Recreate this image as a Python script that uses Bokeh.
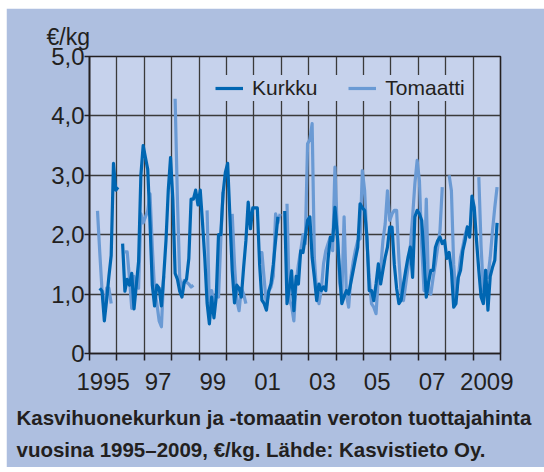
from bokeh.plotting import figure
from bokeh.models import ColumnDataSource, FixedTicker, Legend, LegendItem, Title
from bokeh.embed import file_html
from bokeh.resources import INLINE

nan = float("nan")

years = list(range(1995, 2010))
months = list(range(12))

# Kasvihuonekurkku, €/kg, monthly Jan..Dec per row
kurkku = [
    nan, nan, nan, nan, 1.10, 1.05, 0.55, 0.90, 1.30, 1.65, 3.20, 2.75,   # 1995
    2.80, nan, 1.85, 1.05, 1.25, 1.15, 1.35, 0.75, 1.15, 1.55, 3.00, 3.50,  # 1996
    3.30, 3.10, 2.20, 1.15, 0.80, 1.15, 1.10, 0.80, 1.30, 1.90, 2.75, 3.30, # 1997
    2.60, 1.35, 1.25, 1.05, 0.95, 1.20, 1.25, 1.60, 2.60, 2.60, 2.75, 2.50, # 1998
    2.75, 2.20, 1.60, 0.85, 0.50, 0.95, 0.60, 0.95, 2.00, 2.00, 2.70, 3.05, # 1999
    3.20, 2.30, 1.40, 0.85, 1.15, 1.10, 0.95, 1.45, 1.90, 2.55, 2.10, 2.45, # 2000
    2.45, 2.45, 1.50, 0.90, 0.84, 0.73, 1.05, 1.18, 1.50, 1.90, 2.30, nan,  # 2001
    nan, 2.40, 0.84, 1.10, 1.39, 0.72, 1.30, 1.17, 1.73, 1.70, 1.96, 2.24,  # 2002
    2.30, 1.62, 1.28, 0.89, 1.17, 1.06, 1.12, 1.06, 1.60, 1.96, 1.90, 2.46, # 2003
    2.01, 1.40, 0.84, 0.95, 1.06, 1.00, 1.20, 1.40, 1.60, 1.79, 2.52, 2.45, # 2004
    2.41, 1.96, 1.06, 1.06, 0.89, 1.17, 1.51, 1.17, 1.40, 1.62, 1.79, 2.13, # 2005
    2.13, 1.50, 1.10, 0.84, 0.90, 1.17, 1.40, 1.62, 1.79, 1.28, 2.30, 2.41, # 2006
    2.35, 2.24, 1.62, 0.95, 1.20, 1.40, 1.40, 1.79, 1.90, 1.96, 1.85, 1.90, # 2007
    1.60, 1.70, 1.40, 0.78, 0.84, 1.28, 1.40, 1.73, 1.90, 2.13, 1.96, 2.65, # 2008
    2.46, 1.90, 1.40, 0.95, 0.84, 1.40, 0.73, 1.30, 1.45, 1.57, 2.20, nan,  # 2009
]

# Kasvihuonetomaatti, €/kg, monthly Jan..Dec per row
tomaatti = [
    nan, nan, nan, 2.40, 1.70, 1.05, 0.75, 1.10, 1.10, 0.84, nan, nan,     # 1995
    nan, nan, nan, 1.71, 1.71, 1.27, 0.76, 1.30, 1.15, 1.10, 2.35, 2.20,   # 1996
    2.30, 2.40, 2.69, 1.80, 1.06, 0.84, 0.55, 0.45, 1.30, nan, nan, nan,   # 1997
    nan, 4.29, 2.60, 1.28, 1.06, 1.23, 1.20, 1.17, 1.12, 1.15, nan, nan,   # 1998
    nan, nan, nan, 2.41, 0.78, 1.06, 0.84, 1.00, 0.95, 1.90, 2.72, nan,    # 1999
    nan, nan, 2.35, 1.50, 0.90, 0.72, 1.10, 1.00, 0.84, nan, nan, nan,     # 2000
    nan, nan, 1.70, 1.70, 1.25, 0.80, 1.05, 1.12, 1.30, 2.35, 2.20, 2.35,  # 2001
    nan, nan, 2.52, 0.90, 0.80, 0.55, 1.20, 1.50, 1.73, 2.00, 1.85, 3.53,  # 2002
    3.60, 3.87, 1.60, 1.00, 0.84, 1.06, 1.51, 1.73, 1.85, 1.96, 1.73, 3.14, # 2003
    2.07, 1.20, 0.95, 2.30, 1.00, 0.78, 1.28, 1.55, 1.75, 1.90, 1.93, 3.08, # 2004
    2.74, 1.90, 1.28, 0.84, 0.78, 0.67, 1.28, 1.40, 1.90, 2.18, 2.74, 2.24, # 2005
    2.35, 2.41, 2.41, 1.60, 1.00, 0.89, 1.17, 1.45, 1.79, 2.30, 2.86, 3.25, # 2006
    2.90, 1.80, 1.06, 2.60, 1.06, 1.00, 1.28, 1.51, 1.79, 2.07, 2.80, nan,  # 2007
    nan, 3.00, 2.74, 1.50, 0.95, 1.28, 1.62, 1.80, 2.00, 2.13, 2.00, nan,   # 2008
    nan, nan, 2.97, 1.80, 1.06, 1.40, 1.28, 1.62, 2.07, 2.46, 2.80, nan,   # 2009
]

x_label_years = [1995, 1997, 1999, 2001, 2003, 2005, 2007, 2009]
x_labels = ["1995", "97", "99", "01", "03", "05", "07", "2009"]
y_ticks = [0, 1, 2, 3, 4, 5]
y_labels = ["0", "1,0", "2,0", "3,0", "4,0", "5,0"]

series_names = ["Kurkku", "Tomaatti"]
unit_label = "€/kg"
caption_lines = [
    "Kasvihuonekurkun ja -tomaatin veroton tuottajahinta",
    "vuosina 1995\u20132009, €/kg. Lähde: Kasvistieto Oy.",
]

OUTER = "#AEBFE0"
INNER = "#C6D2EC"
DARK = "#0066B2"
LIGHT = "#6A9AD4"
INK = "#231F20"
GRID = "#3A3A3A"
FONT = "Liberation Sans"

t = [y + (m + 0.5) / 12 for y in years for m in months]
src = ColumnDataSource(dict(t=t, kurkku=kurkku, tomaatti=tomaatti))

p = figure(frame_width=411, frame_height=297,
           x_range=(1995, 2010), y_range=(0, 5),
           output_backend="svg", toolbar_location=None,
           min_border_left=83, min_border_right=44,
           min_border_top=48, min_border_bottom=114,
           margin=(8, 0, 0, 6),
           background_fill_color=INNER, border_fill_color=OUTER)
p.outline_line_color = INK
p.outline_line_width = 1.6

# grid
p.xgrid.ticker = FixedTicker(ticks=list(range(1996, 2010)))
p.ygrid.ticker = FixedTicker(ticks=[1, 2, 3, 4])
for g in (p.xgrid[0], p.ygrid[0]):
    g.grid_line_color = GRID
    g.grid_line_width = 1.3

# x axis: labels mid-year, tick marks at year boundaries
xa = p.xaxis[0]
xa.ticker = FixedTicker(ticks=[y + 0.5 for y in x_label_years],
                        minor_ticks=[y for y in years] + [2010])
xa.major_label_overrides = {y + 0.5: lab for y, lab in zip(x_label_years, x_labels)}
xa.major_tick_line_color = None
xa.major_tick_out = 0
xa.major_tick_in = 0
xa.minor_tick_line_color = INK
xa.minor_tick_line_width = 1.5
xa.minor_tick_out = 7
xa.minor_tick_in = 0
xa.axis_line_color = INK
xa.axis_line_width = 1.6
xa.major_label_standoff = 12
xa.major_label_text_font = FONT
xa.major_label_text_font_size = "24px"
xa.major_label_text_color = INK

ya = p.yaxis[0]
ya.ticker = FixedTicker(ticks=y_ticks)
ya.major_label_overrides = {v: lab for v, lab in zip(y_ticks, y_labels)}
ya.major_tick_line_color = INK
ya.major_tick_line_width = 1.5
ya.major_tick_out = 5
ya.major_tick_in = 0
ya.minor_tick_line_color = None
ya.axis_line_color = INK
ya.axis_line_width = 1.6
ya.major_label_standoff = 0
ya.major_label_text_font = FONT
ya.major_label_text_font_size = "24px"
ya.major_label_text_color = INK

rt = p.line("t", "tomaatti", source=src, line_color=LIGHT, line_width=3.2,
            line_join="round")
rk = p.line("t", "kurkku", source=src, line_color=DARK, line_width=3.2,
            line_join="round")

legend = Legend(items=[LegendItem(label=series_names[0], renderers=[rk]),
                       LegendItem(label=series_names[1], renderers=[rt])],
                location=(126, 252), orientation="horizontal",
                background_fill_color=INNER, background_fill_alpha=1.0,
                border_line_color=None,
                label_text_font=FONT, label_text_font_size="21px",
                label_text_color=INK,
                glyph_width=28, glyph_height=26, label_height=26,
                label_standoff=9, spacing=31, padding=5, margin=0)
p.add_layout(legend)

# unit label above the y axis
p.add_layout(Title(text=unit_label, align="left", offset=-43, standoff=14,
                   text_font=FONT, text_font_size="23px",
                   text_font_style="normal", text_color=INK), "above")

# caption below the chart
for i, line in enumerate(caption_lines):
    p.add_layout(Title(text=line, align="left", offset=-73,
                       standoff=22 if i == 0 else -8,
                       text_font=FONT, text_font_style="bold",
                       text_font_size="20.5px", text_color=INK), "below")

open("out.html", "w").write(file_html(p, INLINE))
